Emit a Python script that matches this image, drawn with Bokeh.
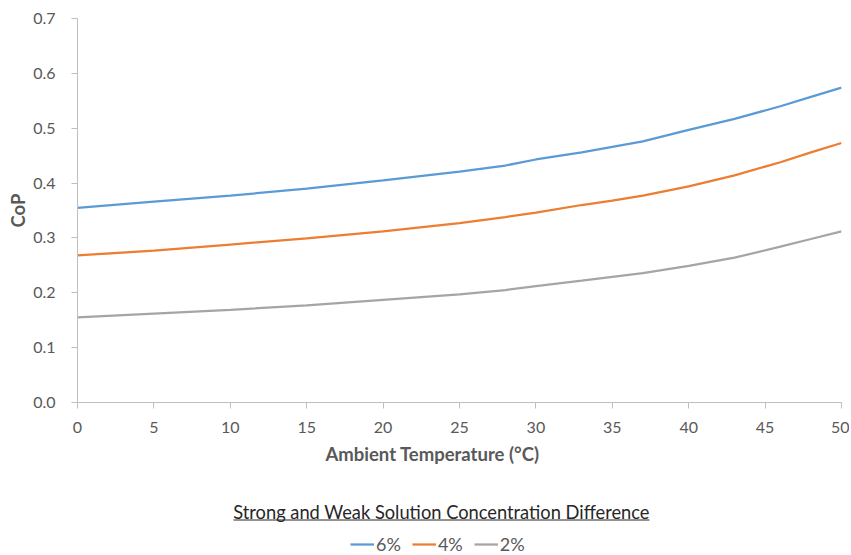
from bokeh.plotting import figure
from bokeh.layouts import column
from bokeh.models import Legend, LegendItem, Label, FixedTicker, NumeralTickFormatter, Range1d
from bokeh.embed import file_html
from bokeh.resources import INLINE

# ---- data ----
temps = [0, 5, 10, 15, 20, 25, 28, 30, 33, 35, 37, 40, 43, 46, 48, 50]
cop_6 = [0.355, 0.366, 0.377, 0.390, 0.405, 0.421, 0.432, 0.443, 0.456, 0.466, 0.476, 0.497, 0.517, 0.540, 0.557, 0.574]
cop_4 = [0.268, 0.277, 0.288, 0.299, 0.312, 0.327, 0.338, 0.346, 0.360, 0.368, 0.377, 0.394, 0.414, 0.438, 0.456, 0.473]
cop_2 = [0.155, 0.162, 0.169, 0.177, 0.187, 0.197, 0.205, 0.212, 0.222, 0.229, 0.236, 0.249, 0.264, 0.284, 0.298, 0.312]
series_names = ["6%", "4%", "2%"]
series_colors = ["#5B9BD5", "#ED7D31", "#A5A5A5"]
x_ticks = [0, 5, 10, 15, 20, 25, 30, 35, 40, 45, 50]
y_ticks = [0.0, 0.1, 0.2, 0.3, 0.4, 0.5, 0.6, 0.7]
x_title = "Ambient Temperature (°C)"
y_title = "CoP"
legend_title = "Strong and Weak Solution Concentration Difference"

FONT = "Lato"
W = 849
H1, H2 = 440, 115
FL, FR = 77, 841  # frame edges in page pixels

# ---- main chart ----
p = figure(width=W, height=H1, output_backend="svg", toolbar_location=None,
           x_range=Range1d(0, 50), y_range=Range1d(0, 0.7),
           min_border_left=FL, min_border_right=W - FR, min_border_top=18, min_border_bottom=38)
p.outline_line_color = None
p.xgrid.grid_line_color = None
p.ygrid.grid_line_color = None

for ys, c in zip([cop_6, cop_4, cop_2], series_colors):
    p.line(temps, ys, line_color=c, line_width=2.25)

for ax in (p.xaxis[0], p.yaxis[0]):
    ax.axis_line_color = "#BFBFBF"
    ax.major_tick_line_color = "#BFBFBF"
    ax.major_tick_out = 6
    ax.major_tick_in = 0
    ax.minor_tick_line_color = None
    ax.major_label_text_font = FONT
    ax.major_label_text_font_size = "16px"
    ax.major_label_text_color = "#595959"
    ax.axis_label_text_font = FONT
    ax.axis_label_text_font_size = "18.5px"
    ax.axis_label_text_font_style = "bold"
    ax.axis_label_text_color = "#595959"

p.xaxis[0].ticker = FixedTicker(ticks=x_ticks)
p.yaxis[0].ticker = FixedTicker(ticks=y_ticks)
p.yaxis[0].formatter = NumeralTickFormatter(format="0.0")
p.yaxis[0].axis_label = y_title
p.xaxis[0].major_label_standoff = 13
p.yaxis[0].major_label_standoff = 16
p.yaxis[0].axis_label_standoff = 1

# ---- x-axis title + legend strip (frame aligned with main chart) ----
p2 = figure(width=W, height=H2, output_backend="svg", toolbar_location=None,
            x_range=Range1d(FL, FR), y_range=Range1d(H2, 0),
            x_axis_location=None, y_axis_location=None,
            min_border=0, min_border_left=FL, min_border_right=W - FR, min_border_top=0, min_border_bottom=0)
p2.grid.visible = False
p2.outline_line_color = None

p2.add_layout(Label(x=432, y=13, text=x_title, text_align="center", text_baseline="middle",
                    text_font=FONT, text_font_size="18.5px", text_font_style="bold",
                    text_color="#595959"))

nan = float("nan")
dummies = [p2.line(x=[nan], y=[nan], line_color=c, line_width=2.25) for c in series_colors]
legend = Legend(items=[LegendItem(label=n, renderers=[r]) for n, r in zip(series_names, dummies)],
                location=(350 - FL, 0), orientation="horizontal",
                padding=0, margin=0, spacing=11, label_standoff=2,
                glyph_width=24, glyph_height=16, label_height=16,
                border_line_color=None, background_fill_alpha=0,
                label_text_font=FONT, label_text_font_size="18px", label_text_color="#595959")
p2.add_layout(legend, "center")

p2.add_layout(Label(x=441, y=71, text=legend_title, text_align="center", text_baseline="middle",
                    text_font=FONT, text_font_size="18.3px", text_color="#262626"))
p2.segment(x0=[233], y0=[79.5], x1=[649], y1=[79.5], line_color="#262626", line_width=1)

open("out.html", "w").write(file_html(column(p, p2, spacing=0), INLINE))
